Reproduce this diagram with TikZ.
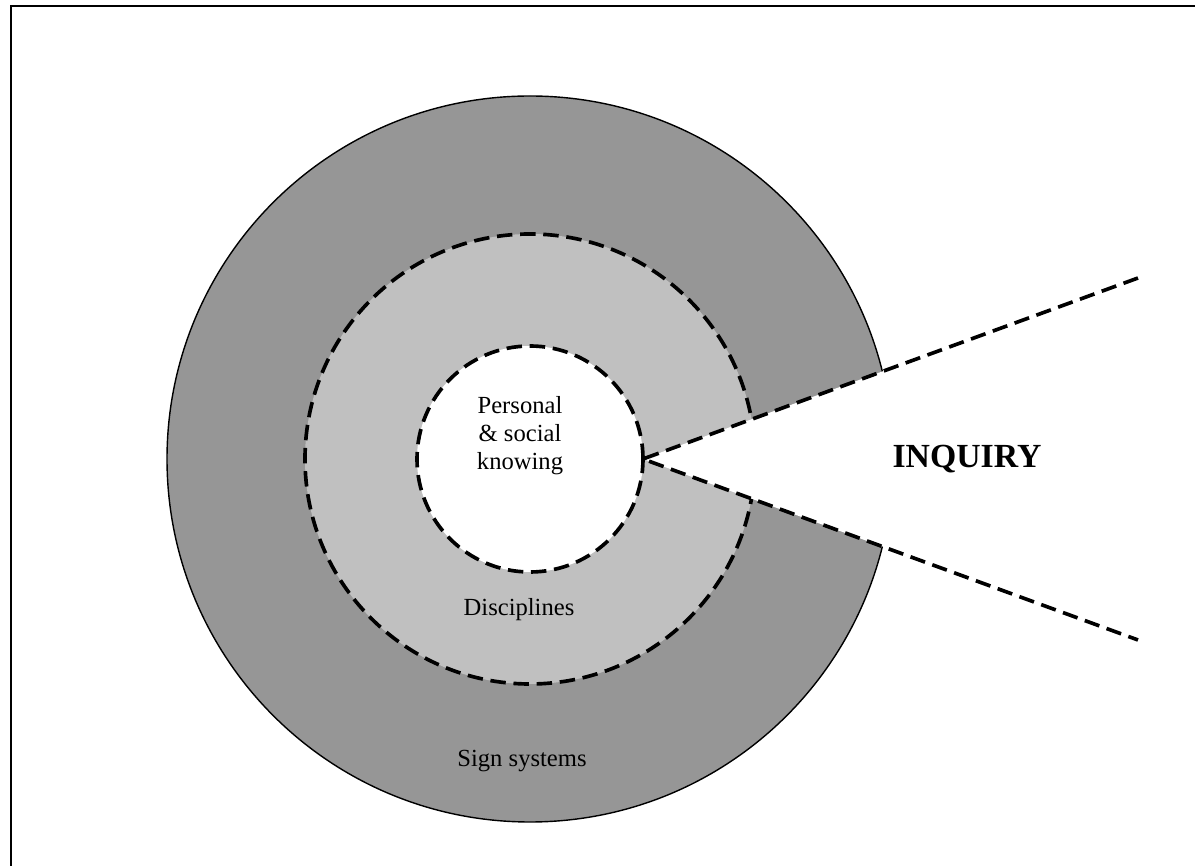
\documentclass[tikz,border=0pt]{standalone}
\usepackage{fontspec}
\setmainfont{Liberation Serif}
\definecolor{signgray}{RGB}{150,150,150}
\definecolor{discgray}{RGB}{192,192,192}

\begin{document}
\begin{tikzpicture}[outerrim/.style = {draw=black, line width=1pt},
    dashring/.style = {draw=black, line width=2.6pt, dash pattern=on 11pt off 5.5pt},
    lbl/.style = {font=\fontsize{17.5}{20}\selectfont, align=center}]
    \useasboundingbox (0, 0) rectangle (29.875, 21.65);
    \draw[line width=1.4pt] (29.875, 21.5) -- (0.275, 21.5) -- (0.275, 0);

    \coordinate (C) at (13.25, 10.175);
    \coordinate (apex) at (16.075, 10.175);
    \coordinate (up) at (28.45, 14.7);
    \coordinate (down) at (28.45, 5.65);

    % rings
    \filldraw[fill=signgray, outerrim] (C) circle (9.075);
    \fill[discgray] (C) circle (5.625);
    \draw[dashring] (C) circle (5.625);
    \fill[white] (apex) -- (up) -- (down) -- cycle;
    \filldraw[fill=white, dashring] (C) circle (2.825);
    \draw[dashring] (up) -- (apex) -- (down);

    \node[lbl] (knowing) at (13.0, 10.75) {Personal\\ \& social\\ knowing};
    \node[lbl, anchor=base] (disc) at (12.975, 6.25) {Disciplines};
    \node[lbl, anchor=base] (signs) at (13.05, 2.475) {Sign systems};
    \node[font=\fontsize{24}{28}\selectfont\bfseries, anchor=base] (inquiry) at (24.175, 9.95) {INQUIRY};
\end{tikzpicture}
\end{document}
